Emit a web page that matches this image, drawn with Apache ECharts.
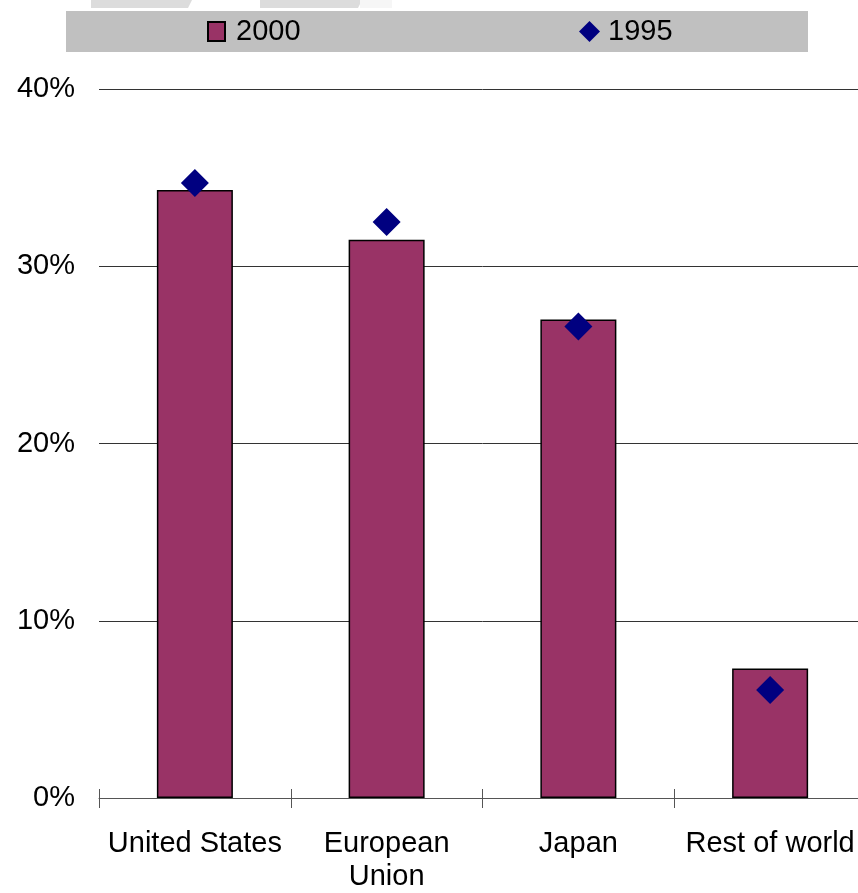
<!DOCTYPE html>
<html>
<head>
<meta charset="utf-8">
<script src="https://cdn.jsdelivr.net/npm/echarts@6/dist/echarts.min.js"></script>
<style>
  html, body { margin: 0; padding: 0; background: #ffffff; overflow: hidden; }
  #frame { width: 858px; height: 893px; overflow: hidden; position: relative; }
  /* the category axis runs a few pixels past the right edge of the frame */
  #chart { width: 866px; height: 893px; position: absolute; left: 0; top: 0; }
</style>
</head>
<body>
<div id="frame"><div id="chart"></div></div>
<script>
// Regional shares, 2000 (bars) versus 1995 (diamonds)
var categories = ['United States', 'European\nUnion', 'Japan', 'Rest of world'];
var share2000 = [34.3, 31.5, 27.0, 7.3];
var share1995 = [34.7, 32.5, 26.6, 6.1];
var yTicks = { min: 0, max: 40, step: 10 };

var FONT = '"Liberation Sans", Arial, sans-serif';

var chart = echarts.init(document.getElementById('chart'), null, { renderer: 'canvas' });

chart.setOption({
  animation: false,
  backgroundColor: '#ffffff',
  textStyle: { fontFamily: FONT },
  graphic: [
    // faint banner fragments along the top edge
    { type: 'polygon', silent: true, z: 0,
      shape: { points: [[91, 0], [192, 0], [188, 8], [91, 8]] },
      style: { fill: '#dcdcdc' } },
    { type: 'polygon', silent: true, z: 0,
      shape: { points: [[260, 0], [362, 0], [358, 8], [260, 8]] },
      style: { fill: '#dcdcdc' } },
    { type: 'rect', silent: true, z: 0,
      shape: { x: 360, y: 0, width: 32, height: 8 },
      style: { fill: '#f6f6f6' } },
    // legend band
    { type: 'rect', silent: true, z: 0,
      shape: { x: 66, y: 11, width: 742, height: 41 },
      style: { fill: '#c0c0c0' } }
  ],
  legend: [
    {
      data: [{ name: '2000', icon: 'rect' }],
      left: 207, top: 17, padding: 0,
      itemWidth: 17, itemHeight: 19, itemGap: 0,
      textStyle: { fontSize: 29, color: '#000', fontFamily: FONT, padding: [0, 0, 0, 6] }
    },
    {
      data: [{ name: '1995', icon: 'diamond' }],
      left: 579, top: 17, padding: 0,
      itemWidth: 21, itemHeight: 21, itemGap: 0,
      textStyle: { fontSize: 29, color: '#000', fontFamily: FONT, padding: [0, 0, 0, 3] }
    }
  ],
  grid: { left: 99, right: 0, top: 89, bottom: 88, containLabel: false },
  xAxis: [
    {
      type: 'category',
      data: categories,
      boundaryGap: true,
      axisLine: { show: true, lineStyle: { color: '#555', width: 1 } },
      axisTick: { show: true, length: 10, lineStyle: { color: '#555', width: 1 } },
      axisLabel: {
        fontSize: 29, color: '#000', fontFamily: FONT,
        lineHeight: 33, margin: 29, interval: 0
      }
    },
    {
      // inward half of the crossing category ticks
      type: 'category',
      data: categories,
      position: 'bottom',
      boundaryGap: true,
      axisLine: { show: false },
      axisTick: { show: true, inside: true, length: 9, lineStyle: { color: '#555', width: 1 } },
      axisLabel: { show: false }
    }
  ],
  yAxis: {
    type: 'value',
    min: yTicks.min, max: yTicks.max, interval: yTicks.step,
    axisLine: { show: false },
    axisTick: { show: false },
    axisLabel: {
      formatter: '{value}%',
      fontSize: 29, color: '#000', fontFamily: FONT, margin: 24
    },
    splitLine: { show: true, lineStyle: { color: '#333', width: 1 } }
  },
  series: [
    {
      name: '2000',
      type: 'bar',
      data: share2000,
      barWidth: 76,
      itemStyle: { color: '#993366', borderColor: '#000', borderWidth: 1.5 },
      z: 2
    },
    {
      name: '1995',
      type: 'scatter',
      data: share1995,
      symbol: 'diamond',
      symbolSize: 28,
      itemStyle: { color: '#000080', opacity: 1 },
      z: 3
    }
  ]
});
</script>
</body>
</html>
